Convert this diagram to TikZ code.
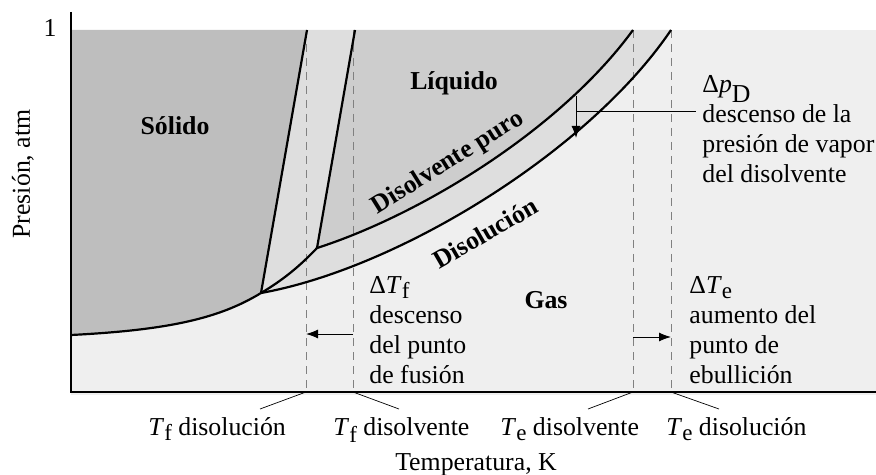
\documentclass[tikz,border=0pt]{standalone}
\usepackage{fontspec}
\setmainfont{Liberation Serif}
\usetikzlibrary{arrows.meta}
\definecolor{solidgray}{HTML}{BEBEBE}
\definecolor{liqgray}{HTML}{CDCDCD}
\definecolor{bandgray}{HTML}{DEDEDE}
\definecolor{gasgray}{HTML}{EFEFEF}
\newcommand{\lsub}[2][2.5pt]{\raisebox{-#1}[0pt][0pt]{\fontsize{11.5}{11.5}\selectfont #2}}
\tikzset{
  curve/.style={line width=1.1pt},
  axis/.style={line width=0.6pt},
  guide/.style={black!50, line width=0.4pt, dash pattern=on 4pt off 3pt},
  leader/.style={line width=0.35pt},
  arr/.style={line width=0.5pt, -{Latex[length=6pt,width=4.5pt]}},
  lbl/.style={font=\fontsize{12.9}{15}\selectfont, inner sep=0pt},
  phase/.style={font=\fontsize{12.9}{15}\selectfont\bfseries, inner sep=0pt},
  note/.style={lbl, anchor=base west},
  }

\begin{document}
\begin{tikzpicture}[x=0.5pt,y=-0.5pt]
  \useasboundingbox (0,0) rectangle (876,475);

  % key points of the diagram
  \coordinate (o)     at (71,392);
  \coordinate (ytop)  at (71,12);
  \coordinate (xend)  at (876,392);
  \coordinate (subl)  at (71,335);
  \coordinate (tpsol) at (261,293);
  \coordinate (tpdis) at (317,248);
  \coordinate (msol)  at (307,30);
  \coordinate (mdis)  at (355,30);
  \coordinate (vdis)  at (633,30);
  \coordinate (vsol)  at (671,30);

  % phase areas
  \fill[gasgray] (71,30) rectangle (876,395);
  \fill[solidgray] (71,30) -- (msol) -- (tpsol)
    .. controls (220,318) and (170,330) .. (subl) -- cycle;
  \fill[bandgray] (msol) -- (tpsol)
    .. controls (400,268) and (590,150) .. (vsol) -- (vdis)
    .. controls (560,130) and (420,215) .. (tpdis) -- (mdis) -- cycle;
  \fill[liqgray] (mdis) -- (tpdis)
    .. controls (420,215) and (560,130) .. (vdis) -- cycle;

  % dashed guides
  \foreach \n/\x in {fsol/306, fdis/353, edis/633, esol/671} {
    \coordinate (\n) at (\x,392);
    \draw[guide] (\x,30) -- (\n);
  }

  % equilibrium curves
  \draw[curve] (subl) .. controls (170,330) and (220,318) .. (tpsol)
    .. controls (283,280) and (300,266) .. (tpdis);
  \draw[curve] (tpsol) -- (msol);
  \draw[curve] (tpdis) -- (mdis);
  \draw[curve] (tpdis) .. controls (420,215) and (560,130) .. (vdis);
  \draw[curve] (tpsol) .. controls (400,268) and (590,150) .. (vsol);

  % axes
  \draw[axis] (ytop) -- (o) -- (xend);

  % vapour pressure drop
  \coordinate (pd1) at (576,96);
  \coordinate (pd2) at (576,138);
  \coordinate (pdm) at (576,112);
  \coordinate (pd3) at (696,112);
  \draw[arr] (pd1) -- (pd2);
  \draw[line width=0.5pt] (pdm) -- (pd3);

  % shifts of the melting and boiling points
  \coordinate (af1) at (353,334);
  \coordinate (af2) at (306,334);
  \coordinate (ae1) at (633,337);
  \coordinate (ae2) at (671,337);
  \draw[arr] (af1) -- (af2);
  \draw[arr] (ae1) -- (ae2);

  % phase labels
  \node[phase] (solido)  at (175,126) {Sólido};
  \node[phase] (liquido) at (454,83)  {Líquido};
  \node[phase] (gas)     at (546,300) {Gas};
  \node[phase,rotate=32] (puro)  at (448,163) {Disolvente puro};
  \node[phase,rotate=30] (disol) at (485,233) {Disolución};

  % notes
  \node[note] (dpd) at (702,93) {\begin{tabular}[t]{@{}l@{}}Δ\textit{p}\raisebox{-5pt}[0pt][0pt]{D}\\descenso de la\\presión de vapor\\del disolvente\end{tabular}};
  \node[note] (dtf) at (369,293) {\begin{tabular}[t]{@{}l@{}}Δ\textit{T}\lsub{f}\\descenso\\del punto\\de fusión\end{tabular}};
  \node[note] (dte) at (689,293) {\begin{tabular}[t]{@{}l@{}}Δ\textit{T}\lsub{e}\\aumento del\\punto de\\ebullición\end{tabular}};

  % axis labels
  \node[lbl,anchor=base] (one) at (50,37) {1};
  \node[lbl,rotate=90] (ylab) at (23,174) {Presión, atm};
  \node[lbl,anchor=base] (xlab) at (476,470) {Temperatura, K};

  % temperatures under the axis
  \node[note] (tfs) at (148,435) {\textit{T}\lsub{f} disolución};
  \node[note] (tfd) at (333,435) {\textit{T}\lsub[3.5pt]{f} disolvente};
  \node[note] (ted) at (500,435) {\textit{T}\lsub{e} disolvente};
  \node[note] (tes) at (666,435) {\textit{T}\lsub{e} disolución};
  \coordinate (lfs) at (260,409);
  \coordinate (lfd) at (399,409);
  \coordinate (led) at (588,409);
  \coordinate (les) at (719,409);
  \draw[leader] (fsol) -- (lfs);
  \draw[leader] (fdis) -- (lfd);
  \draw[leader] (edis) -- (led);
  \draw[leader] (esol) -- (les);
\end{tikzpicture}
\end{document}
